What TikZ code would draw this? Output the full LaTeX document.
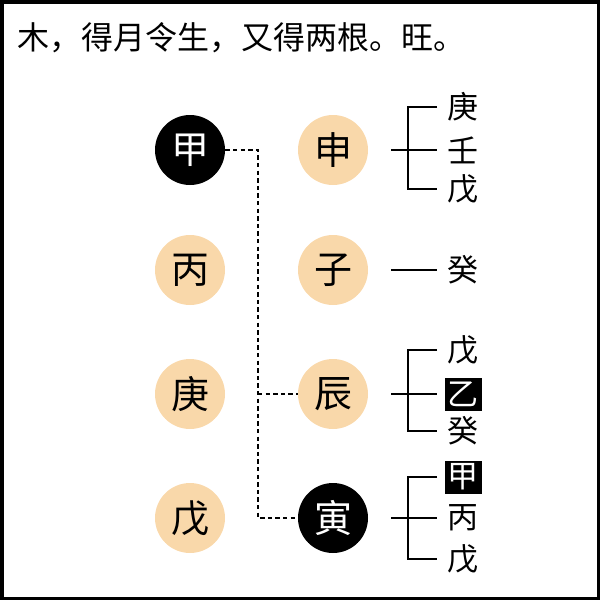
\documentclass[tikz,border=0pt]{standalone}
\usepackage{fontspec}
\setmainfont{Noto Sans CJK SC}
\usepackage{tikz}
\usepackage{xcolor}
\definecolor{peach}{RGB}{249,216,170}

\begin{document}
\begin{tikzpicture}[x=0.5pt, y=-0.5pt,
	stem/.style={circle, fill=peach, minimum size=35pt, inner sep=0pt, font=\fontsize{19}{19}\selectfont},
	self/.style={stem, fill=black, text=white},
	hid/.style={inner sep=0pt, minimum width=18.5pt, minimum height=16.5pt, font=\fontsize{15.5}{15.5}\selectfont},
	hidself/.style={hid, fill=black, text=white},
	link/.style={line width=1.1pt, dash pattern=on 2.2pt off 1.6pt},
	br/.style={line width=1pt, shorten <=3.5pt, shorten >=3.5pt}]
	\draw[line width=1.75pt] (1.75,1.75) rectangle (598.25,598.25);
	\node[anchor=west, inner sep=0pt, font=\fontsize{16}{16}\selectfont] (title) at (17,38) {木，得月令生，又得两根。旺。};
	% stems and branches
	\node[self] (jia) at (190,150) {甲};
	\node[stem] (bing) at (190,270) {丙};
	\node[stem] (geng) at (190,394) {庚};
	\node[stem] (wu) at (190,518) {戊};
	\node[stem] (shen) at (333,150) {申};
	\node[stem] (zi) at (333,270) {子};
	\node[stem] (chen) at (333,394) {辰};
	\node[self] (yin) at (333,518) {寅};
	\coordinate (fork) at (258,394);
	\draw[link] (jia) -| (fork) |- (yin);
	\draw[link] (fork) -- (chen);
	% hidden stems
	\node[hid] (s1) at (463,107) {庚};
	\node[hid] (s2) at (463,150) {壬};
	\node[hid] (s3) at (463,189) {戊};
	\node[hid] (z1) at (463,270) {癸};
	\node[hid] (c1) at (463,350) {戊};
	\node[hidself] (c2) at (463,394) {乙};
	\node[hid] (c3) at (463,431) {癸};
	\node[hidself] (y1) at (463,477) {甲};
	\node[hid] (y2) at (463,518) {丙};
	\node[hid] (y3) at (463,559) {戊};
	\coordinate (sb) at (408,150);
	\coordinate (cb) at (408,394);
	\coordinate (yb) at (408,518);
	\draw[br] (s1) -| (sb) |- (s3);
	\draw[br] (c1) -| (cb) |- (c3);
	\draw[br] (y1) -| (yb) |- (y3);
	\draw[br, shorten <=11.5pt] (shen) -- (s2);
	\draw[br, shorten <=11.5pt] (zi) -- (z1);
	\draw[br, shorten <=11.5pt] (chen) -- (c2);
	\draw[br, shorten <=11.5pt] (yin) -- (y2);
\end{tikzpicture}
\end{document}
